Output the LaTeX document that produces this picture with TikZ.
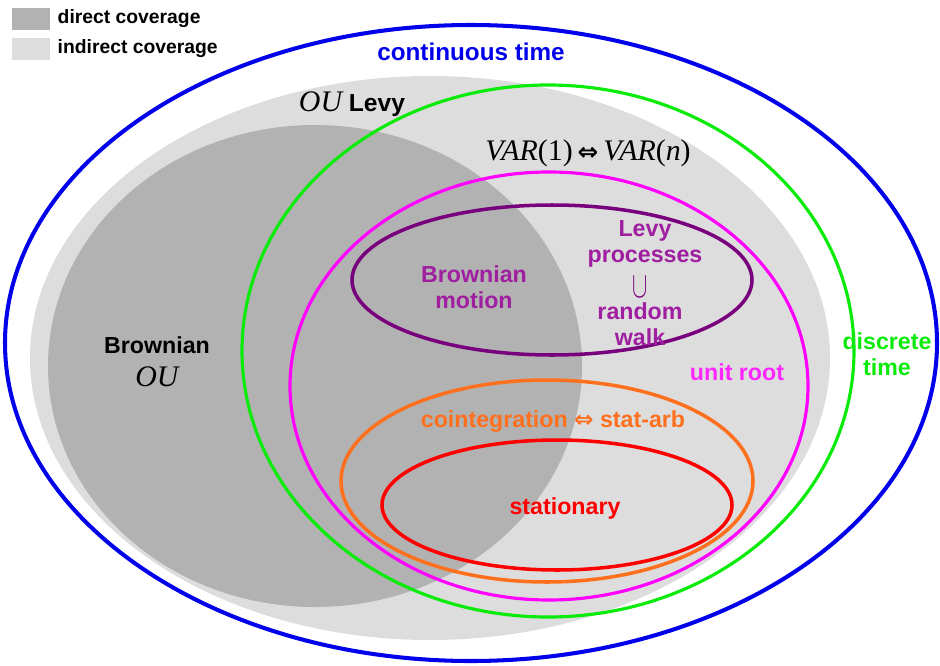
\documentclass[tikz,border=0pt]{standalone}
\usepackage{fontspec}
\setmainfont{Liberation Sans}
\newfontfamily\serif{Liberation Serif}
\newfontfamily\dejavu{DejaVu Sans}
\definecolor{direct}{RGB}{178,178,178}
\definecolor{indirect}{RGB}{221,221,221}
\definecolor{ctblue}{RGB}{0,0,235}
\definecolor{dtgreen}{RGB}{10,235,10}
\definecolor{urpink}{RGB}{255,0,255}
\definecolor{levypurple}{RGB}{120,0,125}
\definecolor{levytext}{RGB}{160,30,160}
\definecolor{coorange}{RGB}{255,112,30}
\definecolor{statred}{RGB}{255,0,0}
\newcommand{\ou}{{\serif\mdseries\itshape\fontsize{17}{17}\selectfont OU}}
\begin{document}
\begin{tikzpicture}[x=0.02cm,y=-0.02cm,
    lbl/.style={font=\bfseries\fontsize{13.2}{14.5}\selectfont,align=center,inner sep=0pt},
    keybox/.style={minimum width=0.76cm,minimum height=0.44cm,inner sep=0pt},
    keytext/.style={right,inner sep=0pt,font=\bfseries\fontsize{11}{12}\selectfont},
    ring/.style={line width=2pt}]
    \useasboundingbox (0,0) rectangle (940,666);
    \fill[indirect] (430,358) ellipse [x radius=400,y radius=282];
    \fill[direct] (315,366) ellipse [x radius=267,y radius=241];
    \draw[ring,ctblue,line width=2.3pt] (471,343) ellipse [x radius=466,y radius=318];
    \draw[ring,dtgreen,line width=1.8pt] (548,351) ellipse [x radius=306,y radius=266];
    \draw[ring,urpink,line width=1.8pt] (549,386) ellipse [x radius=259,y radius=214];
    \draw[ring,levypurple] (552,280) ellipse [x radius=200,y radius=75];
    \draw[ring,coorange] (547,481) ellipse [x radius=206,y radius=101];
    \draw[ring,statred] (557,505) ellipse [x radius=175,y radius=65];
    \node[keybox,fill=direct] (kd) at (31,19) {};
    \node[keybox,fill=indirect] (ki) at (31,49) {};
    \node[keytext] (kdt) at ([xshift=0.14cm]kd.east) {direct coverage};
    \node[keytext] (kit) at ([xshift=0.14cm]ki.east) {indirect coverage};
    \node[lbl,ctblue,font=\bfseries\fontsize{13.8}{15}\selectfont] (ct) at (471,52) {continuous time};
    \node[lbl,font=\bfseries\fontsize{14}{15}\selectfont] (oul) at (352,104) {\ou\ Levy};
    \node[lbl,font=\serif\fontsize{17}{17}\selectfont] (var) at (588,153)
        {\textit{VAR}(1)\,{\dejavu\bfseries\fontsize{14}{14}\selectfont ⇔}\,\textit{VAR}(\textit{n})};
    \node[lbl,font=\bfseries\fontsize{13.2}{19}\selectfont] (bou) at (157,362) {Brownian\\\ou};
    \node[lbl,levytext] (bm) at (474,287) {Brownian\\motion};
    \node[lbl,levytext] (lp) at (645,244) {Levy\\processes};
    \node[levypurple,inner sep=0pt] (cup) at (640,287) {\scalebox{1.3}[2.1]{$\cup$}};
    \node[lbl,levytext] (rw) at (640,324) {random\\walk};
    \node[lbl,dtgreen] (dt) at (887,354) {discrete\\time};
    \node[lbl,urpink!85!white] (ur) at (737,372) {unit root};
    \node[lbl,coorange] (co) at (553,422) {cointegration {\dejavu\bfseries ⇔} stat-arb};
    \node[lbl,statred] (st) at (565,508) {stationary};
\end{tikzpicture}
\end{document}
